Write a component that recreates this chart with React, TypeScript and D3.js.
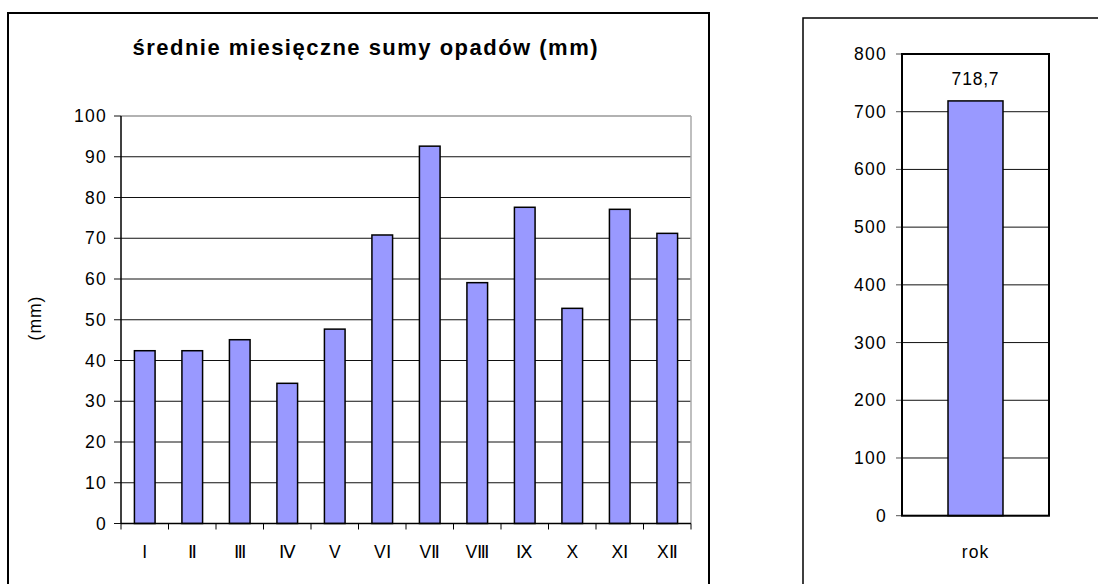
import { scaleBand, scaleLinear } from 'd3';

const months = ['I', 'Ⅱ', 'Ⅲ', 'Ⅳ', 'V', 'VⅠ', 'VⅡ', 'VⅢ', 'Ⅸ', 'X', 'XⅠ', 'XⅡ'];
const monthlyRain = [42.4, 42.4, 45.1, 34.4, 47.7, 70.8, 92.6, 59.1, 77.6, 52.8, 77.1, 71.2];
const monthTicks = [0, 10, 20, 30, 40, 50, 60, 70, 80, 90, 100];

const yearLabels = ['rok'];
const yearRain = [718.7];
const yearTicks = [0, 100, 200, 300, 400, 500, 600, 700, 800];

const W = 1098;
const H = 584;
const font = '"Liberation Sans", Arial, sans-serif';
const barFill = '#9999ff';

// left panel
const left = { x0: 121, x1: 691, top: 116, bottom: 523.5 };
// right panel
const right = { x0: 902, x1: 1049, top: 54, bottom: 515.7 };

const fmt = (v: number) => String(v).replace('.', ',');

export default function App() {
  const xMonth = scaleBand<string>()
    .domain(months)
    .range([left.x0, left.x1])
    .paddingInner(0.565)
    .paddingOuter(0.2825);
  const yMonth = scaleLinear().domain([0, 100]).range([left.bottom, left.top]);
  const step = xMonth.step();
  const boundaries = months.map((_, i) => left.x0 + i * step).concat(left.x1);

  const xYear = scaleBand<string>()
    .domain(yearLabels)
    .range([right.x0, right.x1])
    .paddingInner(0.626)
    .paddingOuter(0.313);
  const yYear = scaleLinear().domain([0, 800]).range([right.bottom, right.top]);

  return (
    <svg
      width={W}
      height={H}
      style={{ position: 'absolute', left: 0, top: 0, background: '#fff' }}
      fontFamily={font}
    >
      {/* outer frames */}
      <rect x={8} y={13} width={701} height={620} fill="none" stroke="#000" strokeWidth={2} />
      <rect x={803} y={18} width={340} height={620} fill="none" stroke="#000" strokeWidth={1.5} />

      <text x={365} y={55} textAnchor="middle" fontSize={22} fontWeight="bold" textLength={465} lengthAdjust="spacing">
        średnie miesięczne sumy opadów (mm)
      </text>

      {/* left chart grid */}
      {monthTicks.map(t => (
        <g key={t}>
          {t > 0 && t < 100 && (
            <line x1={left.x0} x2={left.x1} y1={yMonth(t)} y2={yMonth(t)} stroke="#111" strokeWidth={1} />
          )}
          <line x1={left.x0 - 7} x2={left.x0} y1={yMonth(t)} y2={yMonth(t)} stroke="#111" strokeWidth={1} />
          <text x={107} y={yMonth(t) + 6} textAnchor="end" fontSize={17.5} letterSpacing={1.3} fill="#000">
            {t}
          </text>
        </g>
      ))}
      <line x1={left.x0} x2={left.x1} y1={left.top} y2={left.top} stroke="#999" strokeWidth={1.5} />
      <line x1={left.x1} x2={left.x1} y1={left.top} y2={left.bottom} stroke="#aaa" strokeWidth={1.5} />

      {months.map((m, i) => {
        const x = xMonth(m) ?? 0;
        return (
          <g key={m}>
            <rect
              x={x}
              y={yMonth(monthlyRain[i])}
              width={xMonth.bandwidth()}
              height={left.bottom - yMonth(monthlyRain[i])}
              fill={barFill}
              stroke="#000"
              strokeWidth={1.5}
            />
            <text x={x + xMonth.bandwidth() / 2} y={558} textAnchor="middle" fontSize={17.5} fill="#000">
              {m}
            </text>
          </g>
        );
      })}

      <line x1={left.x0} x2={left.x0} y1={left.top} y2={left.bottom} stroke="#000" strokeWidth={1.5} />
      <line x1={left.x0} x2={left.x1} y1={left.bottom} y2={left.bottom} stroke="#000" strokeWidth={1.5} />
      {boundaries.map(b => (
        <line key={b} x1={b} x2={b} y1={left.bottom} y2={left.bottom + 6} stroke="#000" strokeWidth={1} />
      ))}

      <text
        transform={`translate(41,318) rotate(-90)`}
        textAnchor="middle"
        fontSize={17.5}
        letterSpacing={1}
        fill="#000"
      >
        (mm)
      </text>

      {/* right chart */}
      {yearTicks.map(t => (
        <g key={t}>
          <line x1={right.x0} x2={right.x1} y1={yYear(t)} y2={yYear(t)} stroke="#111" strokeWidth={1} />
          <line x1={right.x0 - 6} x2={right.x0} y1={yYear(t)} y2={yYear(t)} stroke="#555" strokeWidth={1} />
          <text x={887} y={yYear(t) + 6} textAnchor="end" fontSize={17.5} letterSpacing={1.3} fill="#000">
            {t}
          </text>
        </g>
      ))}
      {yearLabels.map((lbl, i) => {
        const x = xYear(lbl) ?? 0;
        return (
          <g key={lbl}>
            <rect
              x={x}
              y={yYear(yearRain[i])}
              width={xYear.bandwidth()}
              height={right.bottom - yYear(yearRain[i])}
              fill={barFill}
              stroke="#000"
              strokeWidth={1.5}
            />
            <text x={x + xYear.bandwidth() / 2} y={yYear(yearRain[i]) - 16} textAnchor="middle" fontSize={17.5} letterSpacing={0.8} fill="#000">
              {fmt(yearRain[i])}
            </text>
            <text x={x + xYear.bandwidth() / 2} y={558} textAnchor="middle" fontSize={17.5} letterSpacing={1} fill="#000">
              {lbl}
            </text>
          </g>
        );
      })}
      <rect
        x={right.x0}
        y={right.top}
        width={right.x1 - right.x0}
        height={right.bottom - right.top}
        fill="none"
        stroke="#000"
        strokeWidth={2}
      />
    </svg>
  );
}
